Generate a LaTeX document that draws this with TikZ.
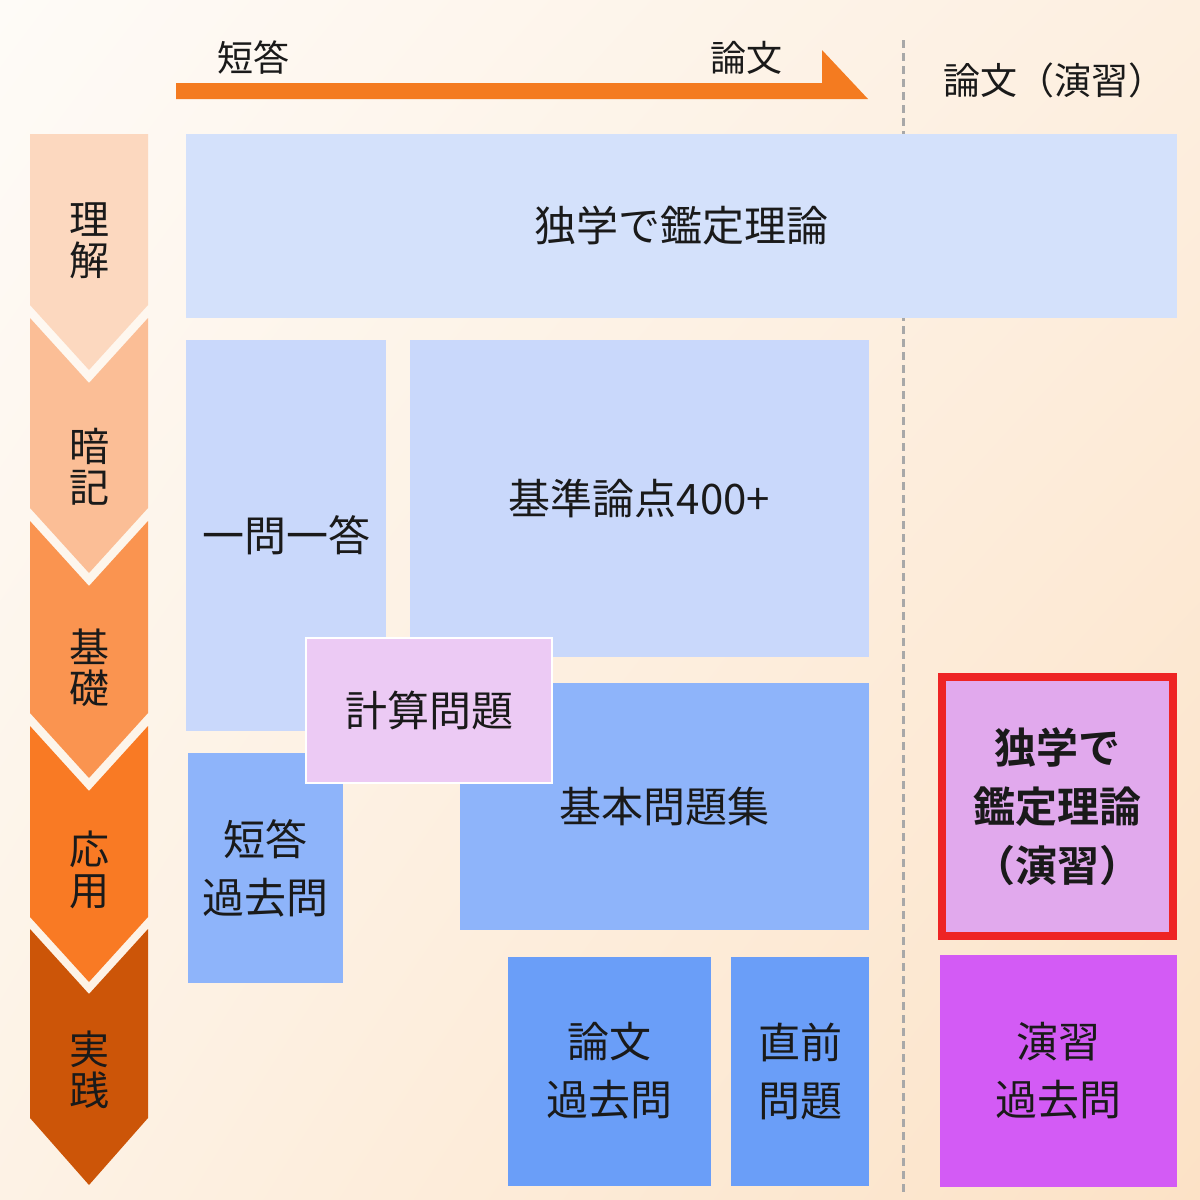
\documentclass[tikz,border=0pt]{standalone}
\usepackage{fontspec}
\usetikzlibrary{shadings}
\newfontfamily\cjk{Noto Sans CJK JP}
\newfontfamily\cjkbold{Noto Sans CJK JP Bold}
\definecolor{txt}{HTML}{1A1A1A}
\definecolor{bgUL}{HTML}{FEFBF7}
\definecolor{bgUR}{HTML}{FDEFE0}
\definecolor{bgLL}{HTML}{FDF2E5}
\definecolor{bgLR}{HTML}{FCE2C6}
\definecolor{arrowor}{HTML}{F47B20}
\definecolor{chevA}{HTML}{FCD8BF}
\definecolor{chevB}{HTML}{FBBE96}
\definecolor{chevC}{HTML}{FA9450}
\definecolor{chevD}{HTML}{F97A24}
\definecolor{chevE}{HTML}{CC5508}
\definecolor{blueA}{HTML}{D4E1FB}
\definecolor{blueB}{HTML}{C9D8FB}
\definecolor{blueC}{HTML}{8EB4FA}
\definecolor{blueD}{HTML}{6A9EF8}
\definecolor{lilac}{HTML}{ECCAF4}
\definecolor{pinkA}{HTML}{E1A9ED}
\definecolor{redB}{HTML}{EE2424}
\definecolor{violet}{HTML}{D35BF5}
\definecolor{dashgray}{HTML}{A8A8A8}
\begin{document}
\begin{tikzpicture}[x=1pt,y=-1pt,
  box/.style={draw=none,inner sep=0pt,outer sep=0pt,align=center,text=txt,
    font=\cjk\fontsize{42}{58}\selectfont},
  chevtext/.style={inner sep=0pt,align=center,text=txt,font=\cjk\fontsize{40}{41}\selectfont},
  toplabel/.style={inner sep=0pt,text=txt,font=\cjk\fontsize{36}{40}\selectfont},
  dashline/.style={draw=dashgray,line width=3pt,dash pattern=on 8pt off 5pt}]
% background
\shade[upper left=bgUL, upper right=bgUR, lower left=bgLL, lower right=bgLR]
  (0,0) rectangle (1200,1200);
\useasboundingbox (0,0) rectangle (1200,1200);
% top arrow
\fill[arrowor] (176,83) -- (822,83) -- (822,50) -- (868,99) -- (176,99) -- cycle;
\node[toplabel] (short) at (253,58) {短答};
\node[toplabel] (essay) at (746,58) {論文};
\node[toplabel,font=\cjk\fontsize{37}{40}\selectfont] (essayex) at (1054,80) {論文（演習）};
% dashed divider
\coordinate (dtop) at (903,40);
\coordinate (dbot) at (903,1192);
\draw[dashline] (dtop) -- (dbot);
% chevrons
\fill[chevA] (30,134) -- (148,134) -- (148,305) -- (89,370) -- (30,305) -- cycle;
\fill[chevB] (30,318) -- (89,383) -- (148,318) -- (148,508) -- (89,573) -- (30,508) -- cycle;
\fill[chevC] (30,521) -- (89,586) -- (148,521) -- (148,713) -- (89,778) -- (30,713) -- cycle;
\fill[chevD] (30,726) -- (89,791) -- (148,726) -- (148,917) -- (89,982) -- (30,917) -- cycle;
\fill[chevE] (30,929) -- (89,994) -- (148,929) -- (148,1118) -- (89,1185) -- (30,1118) -- cycle;
\node[chevtext] (c1) at (89,241) {理\\解};
\node[chevtext] (c2) at (89,467) {暗\\記};
\node[chevtext] (c3) at (89,668) {基\\礎};
\node[chevtext] (c4) at (89,870) {応\\用};
\node[chevtext] (c5) at (89,1070) {実\\践};
% boxes
\node[box,fill=blueA,minimum width=991pt,minimum height=184pt] (theory) at (681.5,226) {独学で鑑定理論};
\node[box,fill=blueB,minimum width=200pt,minimum height=391pt] (qa) at (286,535.5) {一問一答};
\node[box,fill=blueB,minimum width=459pt,minimum height=317pt] (kijun) at (639.5,498.5) {基準論点400+};
\node[box,fill=blueC,minimum width=409pt,minimum height=247pt] (basic) at (664.5,806.5) {基本問題集};
\node[box,fill=blueC,minimum width=155pt,minimum height=230pt] (tanpast) at (265.5,868) {短答\\過去問};
\node[box,fill=lilac,draw=white,line width=2pt,minimum width=246pt,minimum height=145pt] (calc) at (429,710) {計算問題};
\node[box,fill=blueD,minimum width=203pt,minimum height=229pt] (ronpast) at (609.5,1071) {論文\\過去問};
\node[box,fill=blueD,minimum width=138pt,minimum height=229pt] (final) at (800,1071) {直前\\問題};
\node[box,fill=pinkA,draw=redB,line width=8pt,minimum width=231pt,minimum height=259pt,
  font=\cjkbold\fontsize{42}{59}\selectfont] (exer) at (1057.5,806.5) {独学で\\鑑定理論\\（演習）};
\node[box,fill=violet,minimum width=237pt,minimum height=232pt] (expast) at (1058.5,1071) {演習\\過去問};
\end{tikzpicture}
\end{document}
